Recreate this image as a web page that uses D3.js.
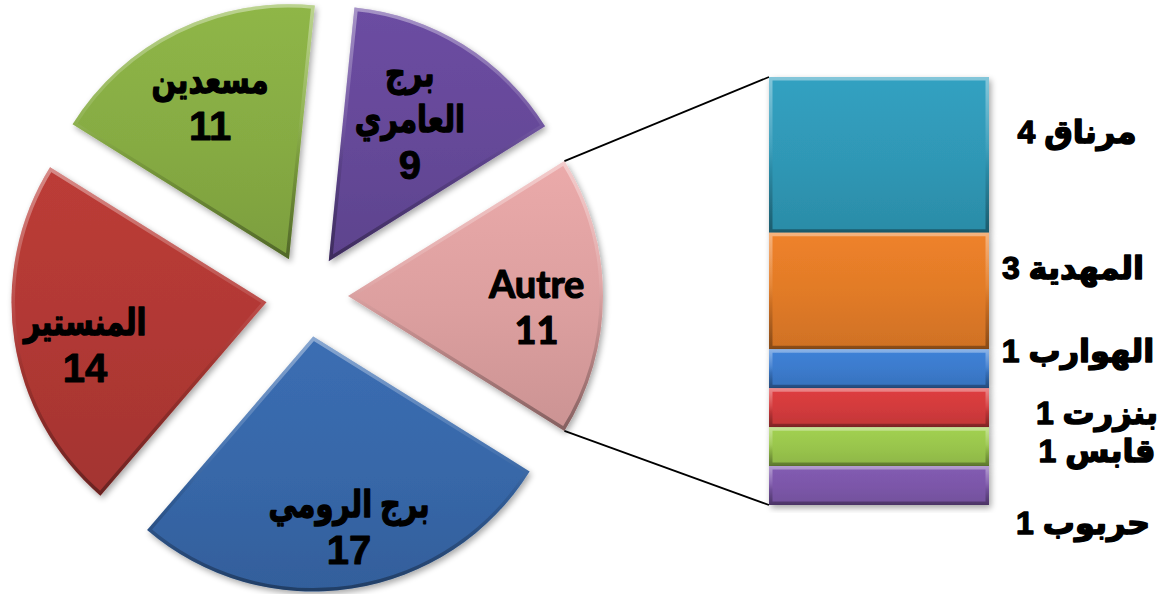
<!DOCTYPE html>
<html>
<head>
<meta charset="utf-8">
<script src="https://cdn.jsdelivr.net/npm/d3@7/dist/d3.min.js"></script>
<style>
  html, body { margin: 0; padding: 0; background: #ffffff; }
  svg { display: block; }
  text { font-weight: 700; }
</style>
</head>
<body>
<svg id="chart" width="1166" height="594"></svg>
<script>
// Main pie: regions, with "Autre" broken out into the stacked bar on the right
const pieCategories = ["Autre", "برج الرومي", "المنستير", "مسعدين", "برج العامري"];
const pieValues     = [11, 17, 14, 11, 9];
const pieColors     = ["#dc9f9f", "#3767a8", "#b03834", "#86ab43", "#654898"];

// Breakdown of "Autre", top to bottom
const barCategories = ["مرناق", "المهدية", "الهوارب", "بنزرت", "قابس", "حربوب"];
const barValues     = [4, 3, 1, 1, 1, 1];
const barColors     = ["#2f97b5", "#e07a27", "#3b7acb", "#d13a3c", "#98c44c", "#7b56a8"];

// Layout
const W = 1166, H = 594;
const pieCenter = [307, 296];
const radius = 255;
const explode = 41;
const wrappedNames = new Set(["برج العامري"]);
const pieLabelNudge = [[5, 10], [8, 9], [0, 15], [2, 9], [-16, 14]];
const arabicSqueeze = 0.78;
const barBox = { left: 769, right: 989, top: 77, bottom: 505 };
const barLabelX = 1079;
const barLabelNudge = [[-2, -23], [-6, -23], [-1, -18], [18, 5], [18, 4], [4, 37]];

const svg = d3.select("#chart");
const defs = svg.append("defs");

// Soft drop shadow used under every shape
const shadow = defs.append("filter").attr("id", "shadow")
  .attr("x", "-10%").attr("y", "-10%").attr("width", "130%").attr("height", "130%");
shadow.append("feGaussianBlur").attr("in", "SourceAlpha").attr("stdDeviation", 3).attr("result", "b");
shadow.append("feOffset").attr("in", "b").attr("dx", 2).attr("dy", 3).attr("result", "o");
shadow.append("feComponentTransfer").attr("in", "o").attr("result", "s")
  .append("feFuncA").attr("type", "linear").attr("slope", 0.35);
const merge = shadow.append("feMerge");
merge.append("feMergeNode").attr("in", "s");
merge.append("feMergeNode").attr("in", "SourceGraphic");

// Bevel rim: light along the top, dark along the bottom
const bevel = defs.append("linearGradient").attr("id", "bevel")
  .attr("x1", 0).attr("y1", 0).attr("x2", 0).attr("y2", 1);
bevel.append("stop").attr("offset", "0%").attr("stop-color", "#fff").attr("stop-opacity", 0.4);
bevel.append("stop").attr("offset", "45%").attr("stop-color", "#fff").attr("stop-opacity", 0.08);
bevel.append("stop").attr("offset", "60%").attr("stop-color", "#000").attr("stop-opacity", 0.08);
bevel.append("stop").attr("offset", "100%").attr("stop-color", "#000").attr("stop-opacity", 0.35);

function fillGradient(id, base) {
  const c = d3.color(base);
  const g = defs.append("linearGradient").attr("id", id)
    .attr("x1", 0).attr("y1", 0).attr("x2", 0).attr("y2", 1);
  g.append("stop").attr("offset", "0%").attr("stop-color", c.brighter(0.18).formatHex());
  g.append("stop").attr("offset", "55%").attr("stop-color", c.formatHex());
  g.append("stop").attr("offset", "100%").attr("stop-color", c.darker(0.22).formatHex());
  return `url(#${id})`;
}

// Draws a filled shape with a bevelled rim clipped inside it
function bevelShape(parent, d, fill, clipId) {
  parent.append("clipPath").attr("id", clipId).append("path").attr("d", d);
  parent.append("path").attr("d", d).attr("fill", fill).attr("filter", "url(#shadow)");
  parent.append("path").attr("d", d)
    .attr("fill", "none")
    .attr("stroke", "url(#bevel)")
    .attr("stroke-width", 7)
    .attr("clip-path", `url(#${clipId})`);
}

// ---- Pie ----
const total = d3.sum(pieValues);
const autreSpan = pieValues[0] / total * 2 * Math.PI;
const pie = d3.pie().sort(null)
  .startAngle(Math.PI / 2 - autreSpan / 2)
  .endAngle(Math.PI / 2 - autreSpan / 2 + 2 * Math.PI);
const arcs = pie(pieValues);
const arc = d3.arc().innerRadius(0).outerRadius(radius);

const pieG = svg.append("g").attr("transform", `translate(${pieCenter[0]},${pieCenter[1]})`);

arcs.forEach((a, i) => {
  const mid = (a.startAngle + a.endAngle) / 2;
  const ox = Math.sin(mid) * explode, oy = -Math.cos(mid) * explode;
  const g = pieG.append("g").attr("transform", `translate(${ox},${oy})`);
  bevelShape(g, arc(a), fillGradient(`pie-fill-${i}`, pieColors[i]), `pie-clip-${i}`);
});

// Connector lines from the "Autre" slice to the bar
const autre = arcs[0];
const autreMid = (autre.startAngle + autre.endAngle) / 2;
const autreOffset = [Math.sin(autreMid) * explode, -Math.cos(autreMid) * explode];
const corner = ang => [
  pieCenter[0] + autreOffset[0] + Math.sin(ang) * radius,
  pieCenter[1] + autreOffset[1] - Math.cos(ang) * radius
];
const yBar = d3.scaleLinear().domain([0, d3.sum(barValues)]).range([barBox.top, barBox.bottom]);
const connectors = [
  [corner(autre.startAngle), [barBox.left, yBar(0)]],
  [corner(autre.endAngle), [barBox.left, yBar(d3.sum(barValues))]]
];
svg.append("g").selectAll("line").data(connectors).join("line")
  .attr("x1", d => d[0][0]).attr("y1", d => d[0][1])
  .attr("x2", d => d[1][0]).attr("y2", d => d[1][1])
  .attr("stroke", "#000").attr("stroke-width", 1.8);

// Pie labels: name (wrapped when needed) over the value
const labelR = radius * 0.72;
const lineH = 46;
arcs.forEach((a, i) => {
  const mid = (a.startAngle + a.endAngle) / 2;
  const ox = Math.sin(mid) * explode, oy = -Math.cos(mid) * explode;
  const cx = pieCenter[0] + ox + Math.sin(mid) * labelR + pieLabelNudge[i][0];
  const cy = pieCenter[1] + oy - Math.cos(mid) * labelR + pieLabelNudge[i][1];
  const name = pieCategories[i];
  const isLatin = /^[A-Za-z]/.test(name);
  const nameLines = wrappedNames.has(name) ? name.split(" ") : [name];
  const lines = nameLines.concat([String(pieValues[i])]);
  const y0 = cy - (lines.length - 1) * lineH / 2;
  lines.forEach((ln, k) => {
    const isNum = k === lines.length - 1;
    const arabic = !isLatin && !isNum;
    svg.append("text")
      .attr("transform", `translate(${cx},${y0 + k * lineH}) scale(${arabic ? arabicSqueeze : 1},1)`)
      .attr("text-anchor", "middle")
      .attr("dominant-baseline", "central")
      .attr("direction", arabic ? "rtl" : "ltr")
      .attr("font-family", isLatin ? "Lato, 'Open Sans', sans-serif" : "'Liberation Sans', 'DejaVu Sans', sans-serif")
      .attr("font-size", isLatin ? 38 : (isNum ? 40 : 37))
      .attr("font-weight", "bold")
      .attr("fill", "#000")
      .attr("stroke", "#000")
      .attr("stroke-width", isLatin ? 1.2 : (arabic ? 1.4 : 0.9))
      .attr("stroke-linejoin", "round")
      .text(ln);
  });
});

// ---- Stacked bar ----
const stackStart = d3.cumsum([0].concat(barValues));
const barG = svg.append("g");
barValues.forEach((v, i) => {
  const y0 = yBar(stackStart[i]), y1 = yBar(stackStart[i] + v);
  const d = `M${barBox.left},${y0}H${barBox.right}V${y1}H${barBox.left}Z`;
  const g = barG.append("g");
  bevelShape(g, d, fillGradient(`bar-fill-${i}`, barColors[i]), `bar-clip-${i}`);
});

// Bar labels: value on the left, Arabic name on the right
barValues.forEach((v, i) => {
  const yc = (yBar(stackStart[i]) + yBar(stackStart[i] + v)) / 2;
  const t = svg.append("text")
    .attr("x", barLabelX + barLabelNudge[i][0])
    .attr("y", yc + barLabelNudge[i][1])
    .attr("text-anchor", "middle")
    .attr("dominant-baseline", "central")
    .attr("font-size", 32)
    .attr("font-weight", "bold")
    .attr("fill", "#000")
    .attr("stroke", "#000")
    .attr("stroke-linejoin", "round");
  t.append("tspan")
    .attr("font-family", "'Liberation Sans', Arial, sans-serif")
    .attr("stroke-width", 1.3)
    .text(`${v} `);
  t.append("tspan")
    .attr("font-family", "'DejaVu Sans', sans-serif")
    .attr("stroke-width", 1.5)
    .text(barCategories[i]);
});
</script>
</body>
</html>
